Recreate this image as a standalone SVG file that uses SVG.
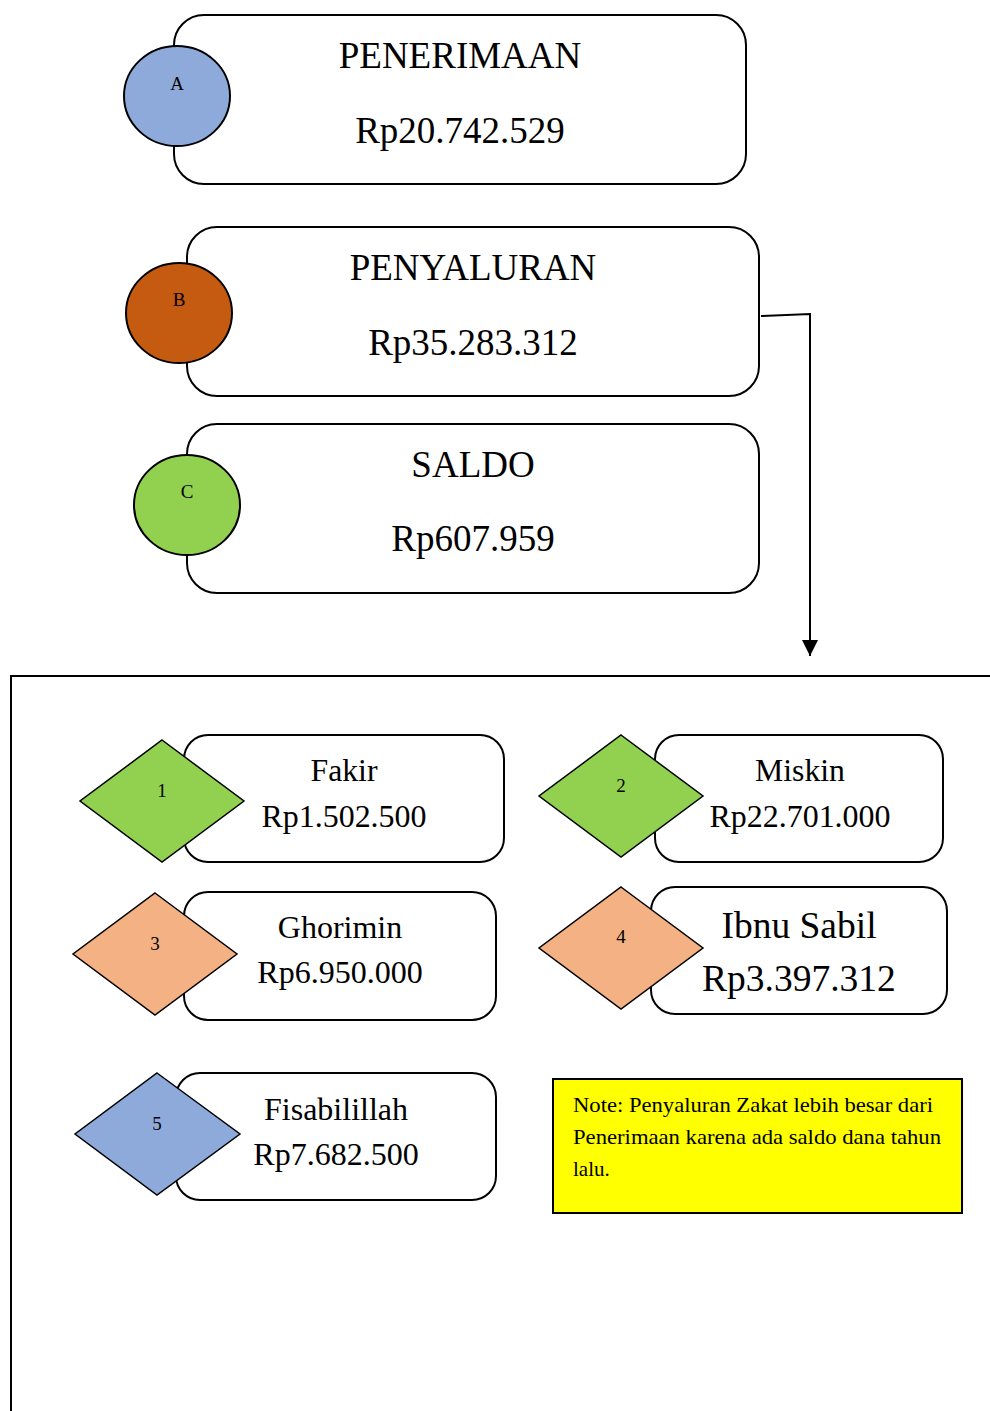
<svg xmlns="http://www.w3.org/2000/svg" width="990" height="1411" viewBox="0 0 990 1411">
<style>
text{font-family:"Liberation Serif","Times New Roman",serif;fill:#000}
.box{fill:#fff;stroke:#000;stroke-width:2}
.circ{stroke:#000;stroke-width:2}
.dia{stroke:#000;stroke-width:1.5}
.big{font-size:37px;text-anchor:middle}
.mid{font-size:32px;text-anchor:middle}
.lbl{font-size:19px;text-anchor:middle}
.note{font-size:21px}
</style>
<defs>
<marker id="arr" markerWidth="16" markerHeight="16" refX="16" refY="8" orient="auto" markerUnits="userSpaceOnUse" viewBox="0 0 16 16">
<path d="M0,0 L16,8 L0,16 Z" fill="#000"/>
</marker>
</defs>
<g id="frame">
<path d="M11,1411 L11,676 L990,676" fill="none" stroke="#000" stroke-width="2"/>
</g>
<g id="nodeA">
<rect class="box" x="174" y="15" width="572" height="169" rx="30"/>
<ellipse class="circ" cx="177" cy="96" rx="53" ry="50" fill="#8eaadb"/>
<text class="lbl" x="177" y="90">A</text>
<text class="big" x="460" y="68">PENERIMAAN</text>
<text class="big" x="460" y="143">Rp20.742.529</text>
</g>
<g id="nodeB">
<rect class="box" x="187" y="227" width="572" height="169" rx="30"/>
<ellipse class="circ" cx="179" cy="313" rx="53" ry="50" fill="#c55a11"/>
<text class="lbl" x="179" y="306">B</text>
<text class="big" x="473" y="280">PENYALURAN</text>
<text class="big" x="473" y="355">Rp35.283.312</text>
</g>
<g id="nodeC">
<rect class="box" x="187" y="424" width="572" height="169" rx="30"/>
<ellipse class="circ" cx="187" cy="505" rx="53" ry="50" fill="#92d050"/>
<text class="lbl" x="187" y="498">C</text>
<text class="big" x="473" y="477">SALDO</text>
<text class="big" x="473" y="551">Rp607.959</text>
</g>
<g id="connectors">
<path d="M761,316 L810,314 L810,656" fill="none" stroke="#000" stroke-width="2" marker-end="url(#arr)"/>
</g>
<g id="node1">
<rect class="box" x="184" y="735" width="320" height="127" rx="24"/>
<polygon class="dia" points="162,740 244,801 162,862 80,801" fill="#92d050"/>
<text class="lbl" x="162" y="797">1</text>
<text class="mid" x="344" y="781" textLength="67" lengthAdjust="spacingAndGlyphs">Fakir</text>
<text class="mid" x="344" y="827" textLength="165" lengthAdjust="spacingAndGlyphs">Rp1.502.500</text>
</g>
<g id="node2">
<rect class="box" x="655" y="735" width="288" height="127" rx="24"/>
<polygon class="dia" points="621,735 703,796 621,857 539,796" fill="#92d050"/>
<text class="lbl" x="621" y="792">2</text>
<text class="mid" x="800" y="781" textLength="90" lengthAdjust="spacingAndGlyphs">Miskin</text>
<text class="mid" x="800" y="827" textLength="181" lengthAdjust="spacingAndGlyphs">Rp22.701.000</text>
</g>
<g id="node3">
<rect class="box" x="184" y="892" width="312" height="128" rx="24"/>
<polygon class="dia" points="155,893 237,954 155,1015 73,954" fill="#f4b183"/>
<text class="lbl" x="155" y="950">3</text>
<text class="mid" x="340" y="938">Ghorimin</text>
<text class="mid" x="340" y="983">Rp6.950.000</text>
</g>
<g id="node4">
<rect class="box" x="651" y="887" width="296" height="127" rx="24"/>
<polygon class="dia" points="621,887 703,948 621,1009 539,948" fill="#f4b183"/>
<text class="lbl" x="621" y="943">4</text>
<text x="799" y="938" style="font-size:37.5px;text-anchor:middle">Ibnu Sabil</text>
<text x="799" y="991" style="font-size:37.5px;text-anchor:middle">Rp3.397.312</text>
</g>
<g id="node5">
<rect class="box" x="176" y="1073" width="320" height="127" rx="24"/>
<polygon class="dia" points="157,1073 240,1134 157,1195 75,1134" fill="#8eaadb"/>
<text class="lbl" x="157" y="1130">5</text>
<text class="mid" x="336" y="1120">Fisabilillah</text>
<text class="mid" x="336" y="1165">Rp7.682.500</text>
</g>
<g id="note">
<rect x="553" y="1079" width="409" height="134" fill="#ffff00" stroke="#000" stroke-width="2"/>
<text class="note" x="573" y="1112" textLength="360" lengthAdjust="spacingAndGlyphs">Note: Penyaluran Zakat lebih besar dari</text>
<text class="note" x="573" y="1144" textLength="368" lengthAdjust="spacingAndGlyphs">Penerimaan karena ada saldo dana tahun</text>
<text class="note" x="573" y="1176">lalu.</text>
</g>
</svg>
